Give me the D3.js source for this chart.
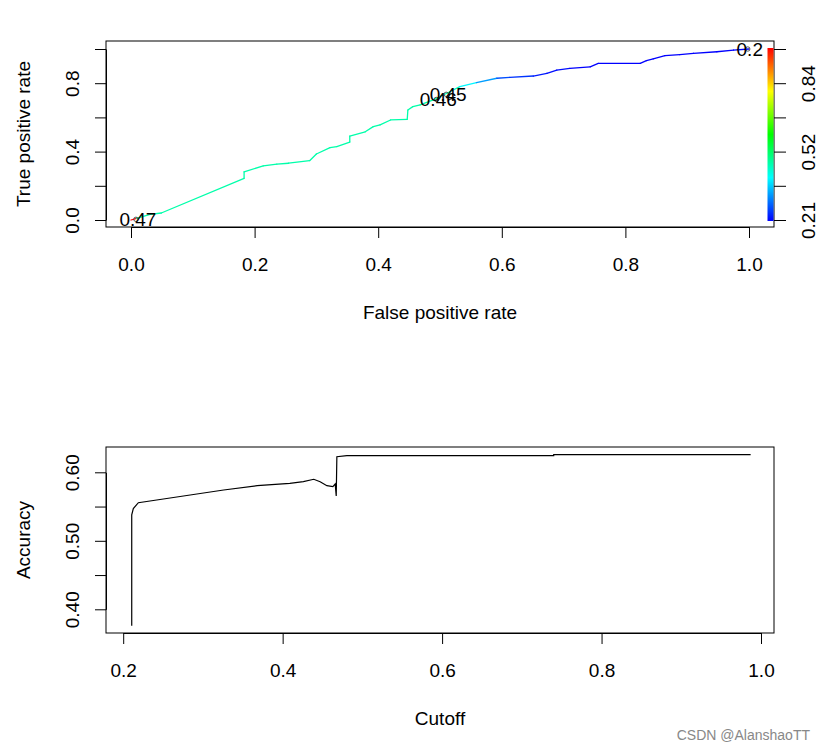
<!DOCTYPE html>
<html>
<head>
<meta charset="utf-8">
<script src="https://cdn.jsdelivr.net/npm/d3@7"></script>
<style>
  body { margin: 0; background: #fff; }
  svg text { font-family: "Liberation Sans", Arial, sans-serif; fill: #000; }
</style>
</head>
<body>
<div id="chart"></div>
<script>
// ROC curve (colorized by cutoff)
var rocFpr = [0, 0.009, 0.031, 0.049, 0.183, 0.183, 0.214, 0.236, 0.255, 0.289, 0.300, 0.322, 0.333, 0.354, 0.354,
              0.379, 0.392, 0.403, 0.420, 0.447, 0.448, 0.456, 0.468, 0.489, 0.516, 0.532, 0.559, 0.592, 0.613,
              0.651, 0.673, 0.689, 0.710, 0.743, 0.756, 0.824, 0.834, 0.845, 0.864, 0.888, 0.910, 0.948, 0.975, 1.0];
var rocTpr = [0, 0.010, 0.033, 0.041, 0.244, 0.282, 0.316, 0.327, 0.332, 0.347, 0.386, 0.423, 0.429, 0.456, 0.491,
              0.516, 0.546, 0.556, 0.585, 0.589, 0.643, 0.663, 0.673, 0.702, 0.750, 0.780, 0.803, 0.829, 0.834,
              0.842, 0.858, 0.877, 0.887, 0.896, 0.916, 0.916, 0.932, 0.942, 0.961, 0.967, 0.975, 0.984, 0.994, 1.0];
var rocCutoff = [0.99, 0.47, 0.47, 0.47, 0.47, 0.47, 0.47, 0.47, 0.47, 0.47, 0.47, 0.47, 0.47, 0.47, 0.47,
                 0.47, 0.47, 0.47, 0.47, 0.47, 0.47, 0.47, 0.47, 0.46, 0.45, 0.40, 0.33, 0.27, 0.25,
                 0.23, 0.22, 0.22, 0.21, 0.21, 0.21, 0.21, 0.21, 0.21, 0.20, 0.20, 0.20, 0.20, 0.20, 0.20];

// printed cutoff labels
var cutLabel = ["0.47", "0.46", "0.45", "0.2"];
var cutFpr = [0.008, 0.494, 0.510, 0.998];
var cutTpr = [0.004, 0.705, 0.735, 1.0];

// colour key
var keyTicks = [0.21, 0.366, 0.522, 0.678, 0.834, 0.99];
var keyLabels = ["0.21", "", "0.52", "", "0.84", ""];

// accuracy vs cutoff
var accCutoff = [0.2107, 0.2107, 0.2127, 0.219, 0.242, 0.284, 0.326, 0.368, 0.409, 0.426, 0.439, 0.447,
                 0.4555, 0.463, 0.4659, 0.4672, 0.468, 0.4806, 0.74, 0.74, 0.987];
var accValue = [0.376, 0.538, 0.547, 0.5556, 0.5596, 0.5669, 0.5742, 0.5805, 0.5839, 0.5863, 0.5898, 0.5863,
                0.5805, 0.579, 0.5829, 0.5654, 0.6228, 0.6242, 0.6242, 0.6257, 0.6257];

var width = 825, height = 751;
var fs = "19px";

var svg = d3.select("#chart").append("svg")
    .attr("width", width)
    .attr("height", height);

var rainbow = function(c) {
  var t = Math.max(0, Math.min(1, (c - 0.21) / (0.99 - 0.21)));
  return d3.hsl(240 * (1 - t), 1, 0.5).toString();
};

function styleAxis(g) {
  g.selectAll("path, line").attr("stroke", "#000");
  g.selectAll("text").style("font-size", fs).attr("fill", "#000");
}

// ---------- top panel ----------
var box1 = { l: 106, r: 774, t: 41, b: 227 };
var x1 = d3.scaleLinear().domain([0, 1]).range([131, 749]);
var y1 = d3.scaleLinear().domain([0, 1]).range([220, 49]);

svg.append("g")
    .attr("transform", "translate(0," + box1.b + ")")
    .call(d3.axisBottom(x1).tickValues([0, 0.2, 0.4, 0.6, 0.8, 1]).tickFormat(d3.format(".1f"))
      .tickSize(11).tickSizeOuter(0).tickPadding(20))
    .call(styleAxis);

var yAx1 = svg.append("g")
    .attr("transform", "translate(" + box1.l + ",0)")
    .call(d3.axisLeft(y1).tickValues([0, 0.2, 0.4, 0.6, 0.8, 1])
      .tickFormat(function(d) { return [0, 0.4, 0.8].indexOf(d) >= 0 ? d3.format(".1f")(d) : ""; })
      .tickSize(11).tickSizeOuter(0))
    .call(styleAxis);
yAx1.selectAll(".tick text")
    .attr("x", null).attr("dy", "0.35em")
    .attr("text-anchor", "middle")
    .attr("transform", "translate(-34,0) rotate(-90)");

svg.append("rect")
    .attr("x", box1.l).attr("y", box1.t)
    .attr("width", box1.r - box1.l).attr("height", box1.b - box1.t)
    .attr("fill", "none").attr("stroke", "#000");

var rocPts = rocFpr.map(function(f, i) { return { x: x1(f), y: y1(rocTpr[i]), c: rocCutoff[i] }; });
svg.append("g").selectAll("line")
    .data(d3.pairs(rocPts))
  .enter().append("line")
    .attr("x1", function(d) { return d[0].x; })
    .attr("y1", function(d) { return d[0].y; })
    .attr("x2", function(d) { return d[1].x; })
    .attr("y2", function(d) { return d[1].y; })
    .attr("stroke", function(d) { return rainbow(d[0].c); })
    .attr("stroke-width", 1.3)
    .attr("stroke-linecap", "round");

var labs = svg.append("g");
cutLabel.forEach(function(l, i) {
  labs.append("circle")
      .attr("cx", x1(cutFpr[i])).attr("cy", y1(cutTpr[i]))
      .attr("r", 2.2).attr("fill", "none").attr("stroke", "#333").attr("stroke-width", 0.8);
  labs.append("text")
      .attr("x", x1(cutFpr[i]) + 2).attr("y", y1(cutTpr[i]))
      .attr("dy", "0.35em").attr("text-anchor", "middle")
      .style("font-size", fs).attr("fill", "#222")
      .text(l);
});

// colour key
var yKey = d3.scaleLinear().domain([0.21, 0.99]).range([220, 49]);
var grad = svg.append("defs").append("linearGradient")
    .attr("id", "keygrad").attr("x1", 0).attr("y1", 1).attr("x2", 0).attr("y2", 0);
grad.selectAll("stop")
    .data(d3.range(0, 1.0001, 0.05))
  .enter().append("stop")
    .attr("offset", function(d) { return d; })
    .attr("stop-color", function(d) { return rainbow(0.21 + d * 0.78); });
svg.append("rect")
    .attr("x", 767.5).attr("y", yKey(0.99) - 1)
    .attr("width", 6).attr("height", yKey(0.21) - yKey(0.99) + 2)
    .attr("fill", "url(#keygrad)");

var keyAx = svg.append("g")
    .attr("transform", "translate(" + box1.r + ",0)")
    .call(d3.axisRight(yKey).tickValues(keyTicks)
      .tickFormat(function(d, i) { return keyLabels[i]; })
      .tickSize(12).tickSizeOuter(0))
    .call(styleAxis);
keyAx.select(".domain").remove();
keyAx.selectAll(".tick text")
    .attr("x", null).attr("dy", "0.35em")
    .attr("text-anchor", "middle")
    .attr("transform", "translate(34,0) rotate(-90)");

svg.append("text")
    .attr("x", (box1.l + box1.r) / 2).attr("y", 319)
    .attr("text-anchor", "middle").style("font-size", fs)
    .text("False positive rate");
svg.append("text")
    .attr("transform", "translate(30," + (box1.t + box1.b) / 2 + ") rotate(-90)")
    .attr("text-anchor", "middle").style("font-size", fs)
    .text("True positive rate");

// ---------- bottom panel ----------
var box2 = { l: 106, r: 774, t: 447, b: 633 };
var x2 = d3.scaleLinear().domain([0.2, 1.0]).range([123.2, 761]);
var y2 = d3.scaleLinear().domain([0.4, 0.6]).range([609.3, 472.3]);

svg.append("g")
    .attr("transform", "translate(0," + box2.b + ")")
    .call(d3.axisBottom(x2).tickValues([0.2, 0.4, 0.6, 0.8, 1.0]).tickFormat(d3.format(".1f"))
      .tickSize(11).tickSizeOuter(0).tickPadding(20))
    .call(styleAxis);

var yAx2 = svg.append("g")
    .attr("transform", "translate(" + box2.l + ",0)")
    .call(d3.axisLeft(y2).tickValues([0.4, 0.45, 0.5, 0.55, 0.6])
      .tickFormat(function(d, i) { return i % 2 === 0 ? d3.format(".2f")(d) : ""; })
      .tickSize(11).tickSizeOuter(0))
    .call(styleAxis);
yAx2.selectAll(".tick text")
    .attr("x", null).attr("dy", "0.35em")
    .attr("text-anchor", "middle")
    .attr("transform", "translate(-34,0) rotate(-90)");

svg.append("rect")
    .attr("x", box2.l).attr("y", box2.t)
    .attr("width", box2.r - box2.l).attr("height", box2.b - box2.t)
    .attr("fill", "none").attr("stroke", "#000");

var accLine = d3.line()
    .x(function(d, i) { return x2(accCutoff[i]); })
    .y(function(d, i) { return y2(accValue[i]); });
svg.append("path")
    .datum(accValue)
    .attr("d", accLine)
    .attr("fill", "none")
    .attr("stroke", "#000")
    .attr("stroke-width", 1.2);

svg.append("text")
    .attr("x", (box2.l + box2.r) / 2).attr("y", 725)
    .attr("text-anchor", "middle").style("font-size", fs)
    .text("Cutoff");
svg.append("text")
    .attr("transform", "translate(30," + (box2.t + box2.b) / 2 + ") rotate(-90)")
    .attr("text-anchor", "middle").style("font-size", fs)
    .text("Accuracy");

// watermark
svg.append("text")
    .attr("x", 810).attr("y", 740)
    .attr("text-anchor", "end").style("font-size", "14px")
    .style("fill", "#888")
    .text("CSDN @AlanshaoTT");
</script>
</body>
</html>
